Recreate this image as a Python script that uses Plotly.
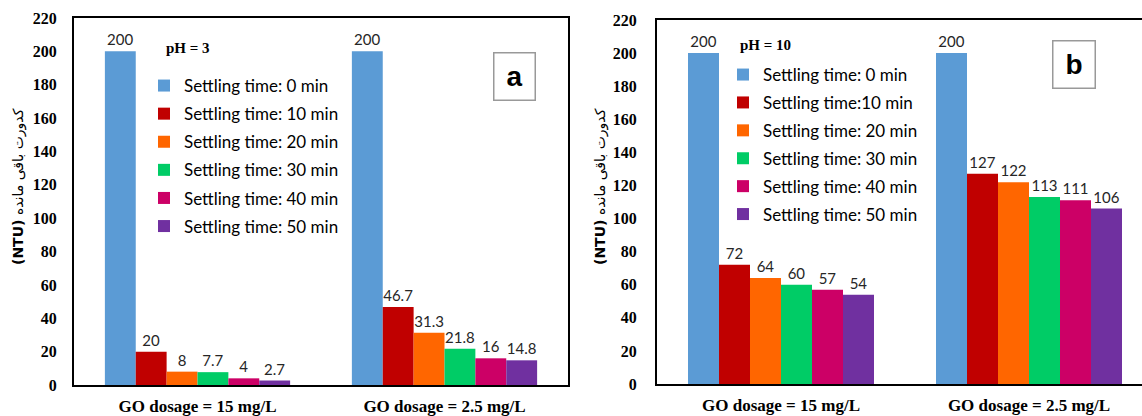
import plotly.graph_objects as go

W, H = 1142, 416

categories = ["GO dosage = 15 mg/L", "GO dosage = 2.5 mg/L"]
names_a = ["Settling time: 0 min", "Settling time: 10 min", "Settling time: 20 min",
           "Settling time: 30 min", "Settling time: 40 min", "Settling time: 50 min"]
names_b = ["Settling time: 0 min", "Settling time:10 min", "Settling time: 20 min",
           "Settling time: 30 min", "Settling time: 40 min", "Settling time: 50 min"]
colors = ["#5B9BD5", "#C00000", "#FF6600", "#00CC66", "#CC0066", "#7030A0"]

# values per settling time: [15 mg/L, 2.5 mg/L]
values_a = [[200, 200], [20, 46.7], [8, 31.3], [7.7, 21.8], [4, 16], [2.7, 14.8]]
values_b = [[200, 200], [72, 127], [64, 122], [60, 113], [57, 111], [54, 106]]
labels_a = [["200", "200"], ["20", "46.7"], ["8", "31.3"], ["7.7", "21.8"], ["4", "16"], ["2.7", "14.8"]]
labels_b = [["200", "200"], ["72", "127"], ["64", "122"], ["60", "113"], ["57", "111"], ["54", "106"]]
y_ticks = list(range(0, 221, 20))

ytitle = "<b>(NTU)</b> کدورت باقی مانده"
ph_a = "pH = 3"
ph_b = "pH = 10"

fig = go.Figure()
label_font = dict(family="Lato", size=15, color="#262626")

for i in range(6):
    fig.add_trace(go.Bar(
        x=categories, y=values_a[i], name=names_a[i], marker=dict(color=colors[i], line=dict(width=0)),
        text=labels_a[i], textposition="outside", textfont=label_font, cliponaxis=False,
        xaxis="x", yaxis="y", legend="legend", legendgroup="a%d" % i, offsetgroup=str(i),
    ))
for i in range(6):
    fig.add_trace(go.Bar(
        x=categories, y=values_b[i], name=names_b[i], marker=dict(color=colors[i], line=dict(width=0)),
        text=labels_b[i], textposition="outside", textfont=label_font, cliponaxis=False,
        xaxis="x2", yaxis="y2", legend="legend2", legendgroup="b%d" % i, offsetgroup=str(i),
    ))

def px_x(p):
    return p / W

def px_y(p):
    return 1 - p / H

axis_common = dict(showgrid=False, zeroline=False, showline=True, linecolor="black", linewidth=2,
                   ticks="", automargin=False)
xtick_font = dict(family="Liberation Serif", size=17, color="black", weight="bold")
ytick_font = dict(family="Liberation Serif", size=16, color="black", weight="bold")
ytitle_font = dict(family="DejaVu Sans", size=14, color="black")
ph_font = dict(family="Liberation Serif", size=15, color="black", weight="bold")
legend_font = dict(family="Lato", size=17, color="black")

fig.update_layout(
    width=W, height=H, margin=dict(l=0, r=0, t=0, b=0),
    paper_bgcolor="white", plot_bgcolor="white",
    barmode="group", bargap=0.25, bargroupgap=0,
    xaxis=dict(domain=[px_x(74), px_x(568)], anchor="y", mirror=True, tickfont=xtick_font,
               ticklabelstandoff=5, **axis_common),
    yaxis=dict(domain=[px_y(385), px_y(18)], anchor="x", range=[0, 220], tickvals=y_ticks,
               mirror=True, tickfont=ytick_font, ticklabelstandoff=12, **axis_common),
    xaxis2=dict(domain=[px_x(657), 1], anchor="y2", mirror=True, tickfont=xtick_font,
                range=[-0.5, -0.5 + (W - 657) / 248.0], ticklabelstandoff=5, **axis_common),
    yaxis2=dict(domain=[px_y(384), px_y(20)], anchor="x2", range=[0, 220], tickvals=y_ticks,
                mirror=False, tickfont=ytick_font, ticklabelstandoff=15, **axis_common),
    legend=dict(x=px_x(144), y=px_y(68), xanchor="left", yanchor="top",
                font=legend_font, tracegroupgap=3.0,
                bgcolor="rgba(0,0,0,0)", traceorder="grouped"),
    legend2=dict(x=px_x(723), y=px_y(57), xanchor="left", yanchor="top",
                 font=legend_font, tracegroupgap=2.8,
                 bgcolor="rgba(0,0,0,0)", traceorder="grouped"),
    annotations=[
        dict(text=ytitle, xref="paper", yref="paper", x=px_x(18), y=px_y(187),
             xanchor="center", yanchor="middle", textangle=-90, showarrow=False, font=ytitle_font),
        dict(text=ytitle, xref="paper", yref="paper", x=px_x(600), y=px_y(187),
             xanchor="center", yanchor="middle", textangle=-90, showarrow=False, font=ytitle_font),
        dict(text=ph_a, xref="paper", yref="paper", x=px_x(164), y=px_y(48),
             xanchor="left", yanchor="middle", showarrow=False, font=ph_font),
        dict(text=ph_b, xref="paper", yref="paper", x=px_x(738), y=px_y(45),
             xanchor="left", yanchor="middle", showarrow=False, font=ph_font),
        dict(text="<b>a</b>", xref="paper", yref="paper", x=px_x(514), y=px_y(76),
             xanchor="center", yanchor="middle", showarrow=False, width=40, height=46,
             bordercolor="#999999", borderwidth=1.5, borderpad=0,
             font=dict(family="Liberation Sans", size=28, color="black")),
        dict(text="<b>b</b>", xref="paper", yref="paper", x=px_x(1073.5), y=px_y(64.5),
             xanchor="center", yanchor="middle", showarrow=False, width=41, height=46,
             bordercolor="#999999", borderwidth=1.5, borderpad=0,
             font=dict(family="Liberation Sans", size=28, color="black")),
    ],
)

fig.write_html("out.html")
